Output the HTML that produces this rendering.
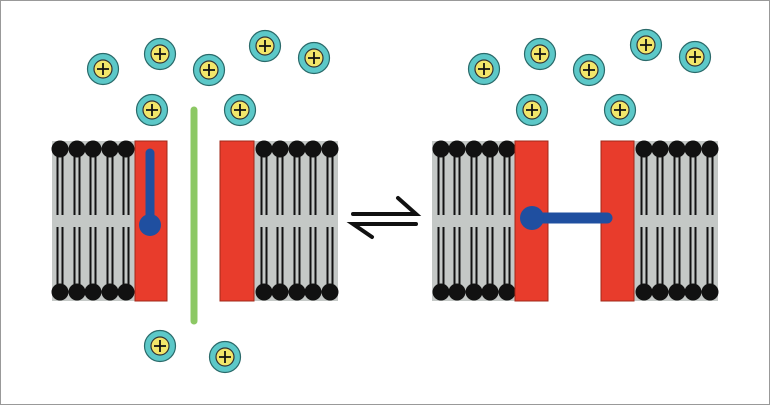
<!DOCTYPE html>
<html><head><meta charset="utf-8"><style>
html,body{margin:0;padding:0;background:#fff;}
svg{display:block;}
</style></head><body>
<svg width="770" height="405" viewBox="0 0 770 405" xmlns="http://www.w3.org/2000/svg">
<defs>
<g id="ion">
<circle r="15.5" fill="#5cc8c8" stroke="#2a6a6a" stroke-width="1.2"/>
<circle r="9" fill="#f2e66a" stroke="#333" stroke-width="1.2"/>
<path d="M-6 0H6M0 -6V6" stroke="#111" stroke-width="1.8"/>
</g>
<g id="lip">
<path d="M-2.5 149V215M2.5 149V215M-2.5 227V292M2.5 227V292" stroke="#111" stroke-width="2"/>
<circle cy="149" r="8.5" fill="#111"/>
<circle cy="292" r="8.5" fill="#111"/>
</g>
</defs>
<rect x="0.5" y="0.5" width="769" height="404" fill="#fff" stroke="#999"/>
<!-- left membrane -->
<rect x="52" y="141" width="84" height="160" fill="#c4c8c6"/>
<use href="#lip" x="60"/><use href="#lip" x="77"/><use href="#lip" x="93"/><use href="#lip" x="110"/><use href="#lip" x="126"/>
<rect x="135" y="141" width="32" height="160" fill="#e83c2c" stroke="#a02818" stroke-width="1"/>
<rect x="254" y="141" width="84" height="160" fill="#c4c8c6"/>
<use href="#lip" x="264"/><use href="#lip" x="280"/><use href="#lip" x="297"/><use href="#lip" x="313"/><use href="#lip" x="330"/>
<rect x="220" y="141" width="34" height="160" fill="#e83c2c" stroke="#a02818" stroke-width="1"/>
<line x1="150" y1="153" x2="150" y2="222" stroke="#1f4fa0" stroke-width="9" stroke-linecap="round"/>
<circle cx="150" cy="225" r="11" fill="#1f4fa0"/>
<line x1="194" y1="110" x2="194" y2="321" stroke="#8cc864" stroke-width="7" stroke-linecap="round"/>
<!-- right membrane -->
<rect x="432" y="141" width="84" height="160" fill="#c4c8c6"/>
<use href="#lip" x="441"/><use href="#lip" x="457"/><use href="#lip" x="474"/><use href="#lip" x="490"/><use href="#lip" x="507"/>
<rect x="515" y="141" width="33" height="160" fill="#e83c2c" stroke="#a02818" stroke-width="1"/>
<rect x="634" y="141" width="84" height="160" fill="#c4c8c6"/>
<use href="#lip" x="644"/><use href="#lip" x="660"/><use href="#lip" x="677"/><use href="#lip" x="693"/><use href="#lip" x="710"/>
<rect x="601" y="141" width="33" height="160" fill="#e83c2c" stroke="#a02818" stroke-width="1"/>
<line x1="535" y1="218" x2="607" y2="218" stroke="#1f4fa0" stroke-width="11" stroke-linecap="round"/>
<circle cx="532" cy="218" r="12" fill="#1f4fa0"/>
<!-- equilibrium arrows -->
<g stroke="#111" stroke-width="4" stroke-linecap="round" fill="none">
<path d="M353 214H416L398 198"/>
<path d="M416 224H353L372 237"/>
</g>
<!-- ions -->
<use href="#ion" x="103" y="69"/><use href="#ion" x="160" y="54"/><use href="#ion" x="209" y="70"/>
<use href="#ion" x="265" y="46"/><use href="#ion" x="314" y="58"/><use href="#ion" x="152" y="110"/>
<use href="#ion" x="240" y="110"/><use href="#ion" x="160" y="346"/><use href="#ion" x="225" y="357"/>
<use href="#ion" x="484" y="69"/><use href="#ion" x="540" y="54"/><use href="#ion" x="589" y="70"/>
<use href="#ion" x="646" y="45"/><use href="#ion" x="695" y="57"/><use href="#ion" x="532" y="110"/>
<use href="#ion" x="620" y="110"/>
</svg>
</body></html>
